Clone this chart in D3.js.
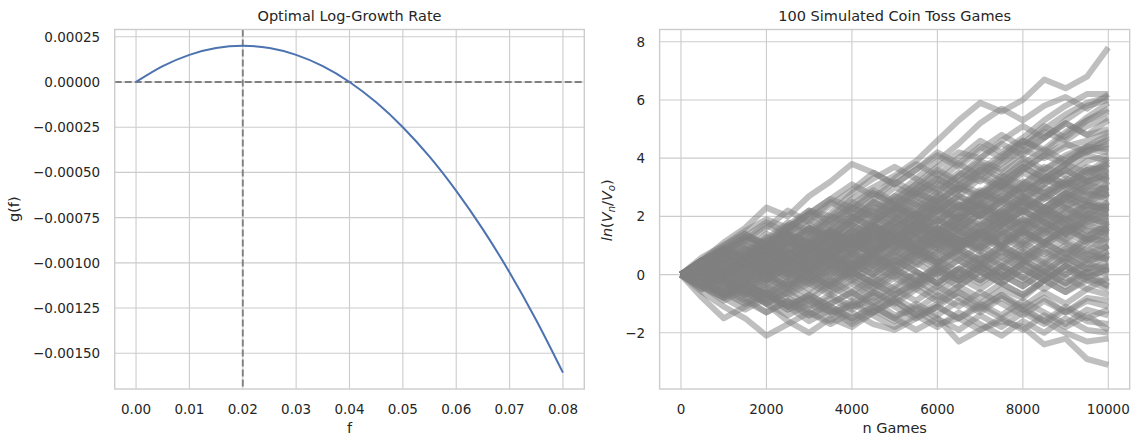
<!DOCTYPE html>
<html>
<head>
<meta charset="utf-8">
<script src="https://cdn.jsdelivr.net/npm/d3@7"></script>
<style>
  body { margin: 0; background: #fff; }
  svg { display: block; font-family: "DejaVu Sans", sans-serif; }
</style>
</head>
<body>
<svg id="chart" width="1139" height="438"></svg>
<script>
// left panel: log-growth rate g(f)
const fValues = [0, 0.005, 0.01, 0.015, 0.02, 0.025, 0.03, 0.035, 0.04, 0.045, 0.05, 0.055, 0.06, 0.065, 0.07, 0.075, 0.08];
const gValues = [0, 0.0000875, 0.00015, 0.0001875, 0.0002, 0.0001875, 0.00015, 0.0000875, 0, -0.0001125, -0.00025, -0.000413, -0.000602, -0.000815, -0.001053, -0.001317, -0.001607];
const fOptimal = 0.02;
const fTicks = [0, 0.01, 0.02, 0.03, 0.04, 0.05, 0.06, 0.07, 0.08];
const gTicks = [0.00025, 0, -0.00025, -0.0005, -0.00075, -0.001, -0.00125, -0.0015];

// right panel: 100 simulated games, ln(Vn/V0) sampled every 500 tosses
const nGames = [0, 500, 1000, 1500, 2000, 2500, 3000, 3500, 4000, 4500, 5000, 5500, 6000, 6500, 7000, 7500, 8000, 8500, 9000, 9500, 10000];
const nTicks = [0, 2000, 4000, 6000, 8000, 10000];
const lnTicks = [-2, 0, 2, 4, 6, 8];
const walks = [
  [0, 0.4, 0.9, 1.3, 1.1, 1.7, 2.2, 2.0, 2.6, 3.0, 3.4, 3.9, 4.6, 5.3, 5.9, 5.6, 6.0, 6.7, 6.4, 6.8, 7.8],
  [0, -0.3, -0.2, -0.7, -0.5, -1.0, -0.8, -1.3, -1.1, -0.9, -1.4, -1.2, -1.7, -1.5, -1.9, -1.6, -1.8, -2.4, -2.2, -2.9, -3.1],
  [0, -0.6, -1.1, -1.5, -2.1, -1.7, -1.3, -1.6, -1.0, -0.6, -0.9, -0.4, 0.1, -0.2, 0.3, 0.8, 0.5, 1.0, 1.4, 1.1, 1.6],
  [0, -0.8, -1.5, -1.1, -0.7, -1.2, -0.9, -0.3, 0.2, -0.1, 0.4, 0.9, 0.6, 1.2, 1.0, 1.5, 1.9, 1.6, 2.2, 2.5, 2.3],
  [0, -0.2, -0.7, -0.4, -1.0, -1.6, -2.0, -1.5, -1.8, -1.3, -0.9, -1.4, -1.1, -0.6, -1.0, -0.5, -0.8, -0.2, -0.6, -0.1, -0.4],
  [0, 0.5, 1.1, 1.6, 2.3, 2.0, 2.7, 3.2, 3.8, 3.5, 3.1, 3.6, 4.1, 3.7, 4.3, 4.8, 4.4, 5.0, 5.5, 5.9, 6.1],
  [0, 0.3, 0.8, 0.6, 1.2, 1.8, 1.5, 2.1, 2.8, 3.3, 3.7, 3.3, 3.9, 4.5, 5.2, 5.7, 5.3, 5.8, 6.1, 5.7, 6.2],
  [0, 0.4, 0.1, 0.6, 1.0, 0.7, 1.3, 1.9, 2.3, 2.0, 2.6, 3.1, 3.7, 4.2, 4.0, 4.6, 5.1, 4.7, 5.3, 5.8, 6.0],
  [0, -0.2, 0.3, 0.9, 0.5, 1.1, 0.8, 1.4, 1.9, 2.5, 2.2, 2.8, 3.3, 2.9, 3.6, 4.1, 4.6, 4.3, 4.9, 5.3, 5.6],
  [0, 0.5, 0.2, 0.7, 1.3, 1.0, 1.6, 1.3, 1.9, 2.4, 3.0, 2.7, 3.2, 3.8, 3.4, 3.9, 4.4, 4.9, 4.6, 5.1, 5.4],
  [0, 0.2, 0.7, 1.2, 0.9, 1.5, 2.1, 2.6, 2.3, 2.0, 2.5, 3.1, 2.8, 3.4, 3.9, 3.6, 4.2, 4.7, 5.2, 4.8, 5.0],
  [0, -0.3, 0.2, 0.0, 0.5, 1.1, 1.6, 1.3, 1.8, 2.2, 2.7, 2.4, 3.0, 3.5, 3.2, 3.8, 4.3, 4.0, 4.4, 4.6, 4.9],
  [0, 0.4, 0.9, 0.6, 0.3, 0.8, 1.4, 2.0, 1.7, 2.3, 2.0, 2.6, 3.1, 2.7, 3.3, 3.0, 3.6, 4.1, 4.5, 4.2, 4.7],
  [0, 0.6, 1.0, 1.5, 1.9, 1.6, 2.2, 1.8, 2.4, 2.9, 2.5, 2.1, 2.7, 3.2, 3.8, 3.5, 4.0, 3.6, 4.1, 4.4, 4.6],
  [0, 0.1, -0.3, 0.2, 0.7, 0.4, 1.0, 1.5, 1.1, 1.7, 2.2, 2.8, 2.5, 3.0, 2.7, 3.3, 3.8, 4.3, 3.9, 4.2, 4.5],
  [0, 0.3, 0.0, 0.5, 0.2, 0.7, 1.2, 0.9, 1.4, 1.9, 2.4, 2.0, 2.5, 2.2, 2.8, 3.4, 3.1, 3.6, 4.0, 4.4, 4.3],
  [0, -0.4, 0.1, 0.5, 1.0, 1.4, 1.1, 1.6, 2.1, 1.8, 2.3, 2.0, 2.5, 3.1, 2.8, 3.2, 3.7, 3.3, 3.8, 4.3, 4.2],
  [0, 0.5, 0.9, 0.6, 1.1, 0.8, 0.4, 0.9, 1.5, 2.0, 1.6, 2.1, 2.6, 2.3, 2.9, 2.6, 3.1, 3.7, 3.4, 3.9, 4.1],
  [0, 0.2, 0.6, 0.3, 0.8, 1.3, 1.0, 0.7, 1.2, 1.7, 1.3, 1.9, 2.4, 2.0, 2.6, 3.1, 2.8, 3.3, 3.8, 3.5, 4.0],
  [0, -0.1, -0.5, 0.0, 0.4, 0.1, 0.6, 1.1, 1.7, 1.4, 1.9, 2.5, 2.2, 2.7, 2.4, 2.9, 3.5, 3.2, 3.6, 4.1, 3.9],
  [0, 0.4, 0.8, 1.3, 1.0, 0.6, 1.1, 1.5, 1.2, 1.8, 2.3, 1.9, 2.4, 2.1, 2.7, 3.2, 2.9, 3.3, 3.0, 3.5, 3.8],
  [0, 0.3, -0.1, 0.3, 0.8, 0.5, 1.0, 0.7, 1.3, 1.0, 1.6, 2.1, 1.7, 2.2, 2.8, 2.5, 3.0, 2.6, 3.1, 3.6, 3.7],
  [0, -0.3, 0.1, 0.6, 0.2, 0.7, 0.4, 0.9, 1.5, 1.2, 1.7, 2.2, 2.7, 2.3, 2.8, 2.4, 2.9, 3.4, 3.1, 3.3, 3.6],
  [0, 0.5, 0.2, 0.6, 1.1, 1.7, 1.4, 1.0, 1.5, 1.1, 1.6, 2.1, 1.8, 2.4, 2.0, 2.5, 3.1, 2.8, 3.2, 3.7, 3.5],
  [0, 0.1, 0.5, 1.0, 0.7, 1.2, 0.8, 1.3, 0.9, 1.4, 2.0, 1.6, 2.2, 2.7, 2.3, 2.0, 2.6, 3.0, 2.7, 3.2, 3.4],
  [0, -0.5, -0.1, 0.3, -0.1, 0.4, 0.9, 0.6, 1.1, 1.7, 1.4, 1.9, 1.5, 2.0, 2.5, 2.2, 2.7, 2.3, 2.8, 3.2, 3.3],
  [0, 0.3, 0.7, 0.4, 0.9, 1.4, 1.9, 1.5, 2.0, 1.6, 1.2, 1.7, 2.2, 1.9, 2.4, 2.1, 2.6, 2.3, 2.8, 2.5, 3.2],
  [0, 0.2, -0.2, 0.2, 0.7, 0.3, 0.8, 1.3, 1.0, 1.5, 1.1, 1.6, 1.3, 1.8, 2.3, 1.9, 2.5, 2.1, 2.6, 3.0, 3.1],
  [0, -0.2, 0.2, -0.2, 0.3, 0.8, 0.5, 1.0, 1.5, 1.1, 1.6, 1.3, 1.8, 2.4, 2.0, 2.6, 2.2, 2.7, 3.2, 2.8, 3.0],
  [0, 0.4, 0.0, 0.4, 0.1, 0.5, 1.0, 0.6, 1.2, 1.7, 2.2, 1.8, 2.3, 1.9, 2.4, 2.0, 2.5, 2.2, 2.6, 3.1, 2.9],
  [0, 0.1, 0.6, 0.2, 0.7, 0.3, 0.8, 1.2, 0.8, 1.4, 1.0, 1.5, 2.0, 1.6, 2.1, 2.7, 2.3, 2.8, 2.4, 2.6, 2.9],
  [0, -0.4, 0.0, 0.5, 0.9, 0.5, 1.1, 0.7, 1.2, 0.9, 1.4, 1.9, 1.5, 2.0, 1.7, 2.2, 2.7, 2.3, 2.8, 2.5, 2.8],
  [0, 0.3, 0.8, 1.2, 0.8, 1.3, 0.9, 1.4, 1.0, 1.5, 1.1, 1.6, 1.2, 1.8, 2.3, 1.9, 2.4, 2.0, 2.5, 2.9, 2.7],
  [0, -0.1, 0.3, 0.7, 0.4, 0.0, 0.5, 1.0, 0.7, 1.2, 1.8, 1.4, 1.9, 1.5, 1.2, 1.7, 2.2, 2.7, 2.3, 2.8, 2.6],
  [0, 0.2, -0.2, -0.6, -0.2, 0.3, 0.7, 0.3, 0.8, 1.3, 0.9, 1.4, 1.9, 1.5, 2.1, 1.7, 2.2, 1.8, 2.3, 2.0, 2.5],
  [0, 0.4, 0.1, 0.5, 0.9, 1.4, 1.0, 0.6, 1.1, 0.7, 1.2, 0.8, 1.3, 1.8, 1.4, 2.0, 1.6, 2.1, 2.6, 2.2, 2.5],
  [0, -0.3, -0.7, -0.3, 0.1, -0.3, 0.2, 0.7, 0.3, 0.8, 1.3, 1.0, 1.5, 1.1, 1.7, 2.2, 1.8, 2.3, 1.9, 2.1, 2.4],
  [0, 0.5, 0.9, 0.5, 0.1, 0.6, 1.1, 0.7, 1.2, 1.7, 1.3, 1.8, 1.4, 1.0, 1.5, 2.0, 1.7, 2.2, 1.8, 2.4, 2.3],
  [0, 0.1, 0.5, 0.2, 0.6, 1.1, 0.7, 1.2, 0.8, 0.4, 0.9, 1.4, 1.0, 1.6, 2.1, 1.7, 2.2, 1.8, 1.4, 1.9, 2.3],
  [0, -0.2, 0.2, 0.6, 1.1, 0.7, 0.3, 0.8, 1.3, 0.9, 1.5, 1.1, 1.6, 1.2, 0.9, 1.4, 1.9, 1.5, 2.0, 2.4, 2.2],
  [0, 0.3, -0.1, 0.3, -0.1, 0.4, 0.9, 0.5, 1.0, 1.5, 1.1, 0.7, 1.2, 1.7, 1.3, 1.8, 1.4, 1.9, 2.3, 1.9, 2.1],
  [0, -0.4, -0.1, 0.4, 0.0, 0.5, 0.1, 0.6, 1.1, 0.7, 1.2, 1.7, 1.3, 0.9, 1.4, 1.0, 1.5, 2.0, 1.6, 2.2, 2.1],
  [0, 0.2, 0.6, 1.0, 0.6, 0.2, 0.7, 0.3, 0.8, 1.3, 1.8, 1.4, 1.0, 1.5, 1.1, 1.7, 2.2, 1.8, 1.4, 1.8, 2.0],
  [0, 0.4, 0.0, -0.4, 0.0, 0.5, 1.0, 1.5, 1.1, 1.6, 1.2, 0.8, 1.3, 0.9, 1.4, 1.9, 1.5, 1.1, 1.6, 2.1, 2.0],
  [0, -0.1, 0.4, 0.0, 0.5, 0.1, -0.3, 0.2, 0.7, 0.3, 0.8, 1.3, 0.9, 1.4, 1.9, 1.5, 1.1, 1.6, 2.1, 1.7, 1.9],
  [0, 0.3, 0.7, 0.3, 0.8, 1.2, 0.8, 0.4, 0.9, 0.5, 1.0, 0.6, 1.1, 1.6, 1.2, 1.7, 1.3, 1.8, 1.4, 1.9, 1.8],
  [0, -0.3, 0.1, -0.3, 0.2, 0.6, 0.2, 0.7, 0.3, 0.8, 1.3, 0.9, 1.4, 1.0, 1.5, 1.1, 1.6, 2.1, 1.7, 1.3, 1.8],
  [0, 0.2, -0.2, 0.3, 0.8, 0.4, 0.9, 0.5, 0.1, 0.6, 1.1, 1.6, 1.2, 0.8, 1.3, 0.9, 1.4, 1.0, 1.5, 2.0, 1.7],
  [0, 0.5, 0.1, 0.5, 0.1, 0.6, 0.2, 0.7, 1.2, 0.8, 1.3, 0.9, 0.5, 1.0, 1.5, 1.1, 1.6, 1.2, 1.7, 1.3, 1.7],
  [0, -0.2, -0.6, -0.2, 0.3, -0.1, 0.4, 0.9, 0.5, 1.0, 0.6, 1.1, 1.6, 1.2, 0.8, 1.3, 0.9, 1.4, 1.9, 1.5, 1.6],
  [0, 0.1, 0.5, 0.9, 0.5, 1.0, 0.6, 1.1, 0.7, 0.3, 0.8, 0.4, 0.9, 1.4, 1.0, 1.5, 1.1, 0.7, 1.2, 1.7, 1.5],
  [0, -0.4, 0.0, 0.4, 0.0, -0.4, 0.1, 0.6, 0.2, 0.7, 1.2, 0.8, 0.4, 0.9, 1.4, 1.0, 1.5, 1.1, 1.6, 1.2, 1.5],
  [0, 0.3, 0.0, 0.4, 0.9, 0.5, 0.1, 0.6, 1.1, 0.7, 0.3, 0.8, 1.3, 0.9, 1.4, 1.0, 0.6, 1.1, 1.6, 1.2, 1.4],
  [0, 0.0, 0.4, 0.0, 0.5, 0.1, 0.6, 0.2, 0.7, 1.2, 0.8, 1.3, 0.9, 0.5, 1.0, 0.6, 1.1, 1.6, 1.2, 0.8, 1.3],
  [0, -0.3, 0.1, 0.5, 0.1, 0.6, 1.0, 0.6, 0.2, 0.7, 0.3, 0.8, 0.4, 0.9, 0.5, 1.0, 1.5, 1.1, 0.7, 1.2, 1.2],
  [0, 0.4, 0.8, 0.4, 0.0, 0.5, 0.1, 0.6, 0.2, 0.7, 1.2, 0.8, 0.4, 0.9, 0.5, 1.0, 0.6, 1.1, 0.7, 1.3, 1.1],
  [0, -0.1, -0.5, -0.1, 0.3, -0.1, 0.4, 0.0, 0.5, 0.1, 0.6, 1.1, 0.7, 1.2, 0.8, 0.4, 0.9, 0.5, 1.0, 0.6, 1.0],
  [0, 0.2, 0.6, 0.2, 0.7, 0.3, -0.1, 0.4, 0.0, 0.5, 0.1, 0.6, 1.1, 0.7, 0.3, 0.8, 0.4, 0.9, 0.5, 1.1, 0.9],
  [0, -0.3, -0.7, -0.3, -0.7, -0.2, 0.2, -0.2, 0.3, 0.8, 0.4, 0.9, 0.5, 0.1, 0.6, 0.2, 0.7, 0.3, 0.8, 0.4, 0.8],
  [0, 0.3, -0.1, 0.3, -0.1, 0.4, 0.0, 0.5, 0.1, -0.3, 0.2, 0.7, 0.3, 0.8, 0.4, 0.9, 0.5, 0.1, 0.6, 0.2, 0.7],
  [0, -0.2, 0.2, -0.2, 0.3, 0.7, 0.3, -0.1, 0.4, 0.0, 0.5, 0.1, -0.3, 0.2, 0.7, 0.3, 0.8, 0.4, 0.0, 0.5, 0.6],
  [0, 0.1, -0.3, -0.7, -0.3, 0.1, -0.3, 0.2, -0.2, 0.3, -0.1, 0.4, 0.0, 0.5, 0.1, 0.6, 0.2, -0.2, 0.3, 0.7, 0.5],
  [0, 0.4, 0.0, 0.4, 0.8, 0.4, 0.0, -0.4, 0.1, -0.3, 0.2, -0.2, 0.3, -0.1, 0.4, 0.0, 0.5, 0.1, 0.6, 0.2, 0.4],
  [0, -0.4, -0.8, -0.4, 0.0, -0.4, 0.1, -0.3, 0.2, 0.6, 0.2, -0.2, 0.3, -0.1, 0.4, 0.0, -0.4, 0.1, -0.3, 0.2, 0.3],
  [0, 0.2, 0.6, 0.2, -0.2, 0.2, -0.2, 0.3, -0.1, -0.5, 0.0, -0.4, 0.1, 0.5, 0.1, -0.3, 0.2, -0.2, 0.3, -0.1, 0.2],
  [0, -0.1, 0.3, -0.1, -0.5, -0.1, -0.5, 0.0, 0.4, 0.0, 0.5, 0.1, -0.3, 0.2, -0.2, 0.3, -0.1, -0.5, 0.0, 0.4, 0.1],
  [0, 0.3, -0.1, -0.5, -0.1, -0.5, -0.1, -0.5, 0.0, -0.4, 0.1, -0.3, 0.2, -0.2, 0.3, -0.1, 0.4, 0.0, -0.4, 0.1, 0.0],
  [0, -0.3, 0.1, -0.3, -0.7, -0.3, -0.7, -0.2, -0.6, -0.1, -0.5, 0.0, -0.4, 0.1, -0.3, 0.2, -0.2, 0.3, -0.1, -0.5, -0.1],
  [0, 0.2, -0.2, -0.6, -1.0, -0.6, -0.2, -0.6, -0.2, -0.6, -0.1, -0.5, 0.0, -0.4, 0.1, -0.3, -0.7, -0.2, 0.2, -0.2, -0.2],
  [0, -0.4, -0.8, -0.4, -0.8, -0.4, 0.0, -0.4, -0.8, -0.3, -0.7, -0.2, -0.6, -0.1, -0.5, 0.0, -0.4, 0.1, -0.3, 0.1, -0.4],
  [0, 0.1, -0.3, 0.1, -0.3, -0.7, -0.3, -0.7, -1.1, -0.6, -1.0, -0.5, -0.9, -0.4, -0.8, -0.3, -0.7, -0.2, -0.6, -0.2, -0.5],
  [0, -0.2, -0.6, -1.0, -0.6, -1.0, -1.4, -1.0, -0.6, -1.0, -0.5, -0.9, -0.4, -0.8, -1.2, -0.7, -1.1, -0.6, -1.0, -0.5, -0.7],
  [0, 0.3, -0.1, -0.5, -0.9, -0.5, -0.9, -1.3, -0.9, -1.3, -0.8, -1.2, -0.7, -1.1, -0.6, -1.0, -1.4, -0.9, -1.3, -0.8, -0.9],
  [0, -0.3, -0.7, -0.3, -0.7, -1.1, -0.7, -1.1, -1.5, -1.1, -1.5, -1.0, -1.4, -0.9, -1.3, -0.8, -1.2, -1.6, -1.1, -1.5, -1.2],
  [0, 0.0, -0.4, -0.8, -0.4, -0.8, -1.2, -0.8, -1.2, -0.7, -1.1, -1.5, -1.1, -1.5, -1.0, -1.4, -0.9, -1.3, -1.7, -1.2, -1.4],
  [0, -0.4, -0.8, -1.2, -0.8, -1.2, -0.8, -1.2, -1.6, -1.2, -1.6, -1.1, -1.5, -1.9, -1.4, -1.8, -1.3, -1.7, -1.2, -1.6, -1.7],
  [0, 0.2, -0.2, -0.6, -1.0, -1.4, -1.0, -1.4, -1.0, -1.4, -1.8, -1.4, -1.8, -1.3, -1.7, -2.1, -1.6, -2.0, -1.5, -1.9, -2.0],
  [0, -0.3, -0.7, -0.3, -0.7, -1.1, -0.7, -1.1, -1.5, -1.1, -1.5, -1.9, -1.5, -2.3, -1.9, -1.5, -1.9, -1.4, -1.8, -1.4, -1.9],
  [0, -0.1, -0.5, -0.9, -1.3, -0.9, -1.3, -1.7, -1.3, -1.7, -1.9, -1.5, -1.1, -1.5, -1.1, -1.5, -1.1, -1.6, -2.0, -2.3, -2.2],
  [0, 0.5, 1.0, 1.4, 1.0, 1.6, 2.1, 1.7, 2.3, 2.8, 2.4, 3.0, 3.6, 3.2, 3.7, 3.3, 3.9, 3.5, 3.1, 3.6, 3.2],
  [0, 0.3, 0.8, 1.3, 1.8, 1.4, 1.9, 2.5, 2.1, 2.6, 3.2, 2.8, 3.3, 2.9, 3.5, 4.0, 4.6, 4.2, 4.8, 5.4, 5.9],
  [0, 0.2, 0.7, 0.4, 1.0, 1.6, 2.1, 2.6, 3.1, 2.7, 3.3, 3.8, 3.4, 4.0, 4.6, 4.2, 4.7, 5.3, 5.8, 6.2, 6.2],
  [0, 0.5, 0.2, 0.8, 1.4, 1.1, 1.7, 1.3, 1.9, 2.5, 2.1, 2.7, 2.3, 2.9, 3.4, 3.0, 3.6, 4.1, 3.8, 4.4, 4.8],
  [0, -0.2, 0.3, 0.8, 0.4, 1.0, 1.5, 1.1, 1.7, 1.3, 1.9, 2.4, 2.0, 2.6, 2.2, 2.7, 3.2, 2.8, 3.3, 3.0, 3.4],
  [0, 0.3, 0.7, 1.2, 1.7, 1.3, 0.9, 1.4, 1.0, 1.5, 2.0, 1.6, 2.2, 1.8, 1.4, 1.9, 2.5, 2.1, 2.7, 2.3, 2.8],
  [0, 0.1, 0.5, 0.1, 0.6, 1.1, 1.6, 1.2, 1.7, 2.2, 1.8, 2.3, 2.8, 2.4, 2.0, 2.5, 2.1, 2.6, 3.1, 2.7, 3.0],
  [0, -0.2, -0.6, -0.2, 0.2, 0.7, 0.3, 0.8, 0.4, 0.9, 1.4, 1.0, 1.5, 2.0, 1.6, 2.1, 1.7, 2.3, 1.9, 2.4, 2.2],
  [0, 0.4, 0.1, 0.6, 0.2, 0.7, 0.3, 0.8, 1.3, 0.9, 1.4, 1.0, 1.6, 1.2, 1.7, 1.3, 1.8, 1.4, 1.9, 1.5, 1.4],
  [0, -0.1, 0.3, -0.1, 0.4, 0.0, 0.5, 0.1, 0.6, 0.2, 0.7, 0.3, 0.8, 1.3, 0.9, 1.4, 1.0, 1.5, 1.1, 0.7, 1.0],
  [0, 0.2, -0.2, 0.2, -0.2, 0.3, -0.1, 0.4, 0.0, 0.5, 0.1, 0.6, 0.2, 0.7, 0.3, -0.1, 0.4, 0.0, 0.5, 0.9, 0.5],
  [0, -0.5, -0.1, -0.5, -0.1, -0.5, 0.0, -0.4, 0.1, -0.3, -0.7, -0.3, 0.2, -0.2, 0.3, -0.1, 0.4, 0.8, 0.4, 0.0, 0.3],
  [0, 0.3, 0.8, 0.4, 0.9, 0.5, 1.0, 1.5, 1.1, 0.7, 1.2, 1.8, 1.4, 1.9, 2.5, 3.0, 2.6, 3.1, 3.6, 3.2, 3.8],
  [0, 0.4, 0.9, 1.4, 1.0, 1.5, 1.1, 1.7, 2.2, 2.8, 2.4, 2.9, 3.5, 3.1, 3.6, 3.2, 2.8, 3.3, 2.9, 3.4, 3.9],
  [0, 0.1, 0.6, 1.1, 1.6, 2.2, 1.8, 2.4, 2.9, 3.5, 3.1, 3.6, 4.2, 3.8, 4.4, 4.0, 4.5, 5.1, 4.7, 5.3, 5.7],
  [0, -0.2, 0.3, 0.7, 1.2, 0.8, 1.3, 1.9, 2.5, 2.1, 2.7, 3.3, 2.9, 3.4, 4.0, 4.5, 4.1, 4.7, 5.2, 4.8, 5.3],
  [0, 0.3, 0.0, 0.5, 1.0, 0.6, 1.1, 0.7, 1.2, 1.8, 2.3, 2.9, 2.5, 3.0, 2.6, 3.1, 3.7, 3.3, 3.8, 4.3, 4.4],
  [0, -0.4, -0.9, -0.5, -1.0, -0.6, -1.1, -0.7, -0.3, -0.8, -0.4, 0.1, -0.3, 0.2, -0.2, 0.3, -0.1, 0.4, 0.9, 0.5, 0.8],
  [0, 0.2, -0.3, -0.8, -1.3, -0.9, -1.4, -1.0, -0.6, -1.1, -0.7, -0.3, -0.8, -0.4, 0.1, -0.3, 0.2, -0.2, 0.3, -0.1, 0.2],
  [0, -0.1, -0.6, -1.0, -0.6, -1.1, -1.6, -1.2, -1.7, -1.3, -0.9, -1.4, -1.0, -0.6, -1.1, -0.7, -1.2, -0.8, -1.3, -0.9, -1.1],
  [0, 0.4, 0.8, 0.4, 0.9, 1.4, 1.0, 1.5, 2.0, 1.6, 1.2, 1.7, 2.3, 1.9, 2.4, 2.9, 2.5, 3.1, 3.6, 3.2, 3.5]
];

const svg = d3.select("#chart");
const textColor = "#262626";
const gridColor = "#cccccc";

// shared vertical extent of both axes boxes
const axTop = 29.5, axBottom = 389;

// ---------- left panel ----------
const xL = d3.scaleLinear().domain([-0.004, 0.084]).range([114.7, 584.3]);
const yL = d3.scaleLinear().domain([-0.0016974, 0.00029]).range([axBottom, axTop]);

// ---------- right panel ----------
const xR = d3.scaleLinear().domain([-500, 10500]).range([659.6, 1129.7]);
const yR = d3.scaleLinear().domain([-3.93, 8.42]).range([axBottom, axTop]);

function drawFrame(x, y, xt, yt, xfmt, yfmt) {
  const g = svg.append("g");
  const [x0, x1] = x.range();
  g.selectAll(".vg").data(xt).join("line")
      .attr("x1", d => x(d)).attr("x2", d => x(d))
      .attr("y1", axTop).attr("y2", axBottom)
      .attr("stroke", gridColor).attr("stroke-width", 1.1);
  g.selectAll(".hg").data(yt).join("line")
      .attr("x1", x0).attr("x2", x1)
      .attr("y1", d => y(d)).attr("y2", d => y(d))
      .attr("stroke", gridColor).attr("stroke-width", 1.1);
  svg.append("g").selectAll("text").data(xt).join("text")
      .attr("x", d => x(d)).attr("y", 414)
      .attr("text-anchor", "middle")
      .attr("font-size", 13.5).attr("fill", textColor)
      .text(xfmt);
  svg.append("g").selectAll("text").data(yt).join("text")
      .attr("x", x0 - 14.5).attr("y", d => y(d) + 5)
      .attr("text-anchor", "end")
      .attr("font-size", 13.5).attr("fill", textColor)
      .text(yfmt);
  return g;
}

function drawBorder(x) {
  const [x0, x1] = x.range();
  svg.append("rect")
      .attr("x", x0).attr("y", axTop)
      .attr("width", x1 - x0).attr("height", axBottom - axTop)
      .attr("fill", "none").attr("stroke", gridColor).attr("stroke-width", 1.4);
}

drawFrame(xL, yL, fTicks, gTicks, d3.format(".2f"), d3.format(".5f"));
drawFrame(xR, yR, nTicks, lnTicks, d3.format("d"), d3.format("d"));

// reference lines: optimum f and zero growth
svg.append("line")
    .attr("x1", xL.range()[0]).attr("x2", xL.range()[1])
    .attr("y1", yL(0)).attr("y2", yL(0))
    .attr("stroke", "#808080").attr("stroke-width", 1.9)
    .attr("stroke-dasharray", "7,3");
svg.append("line")
    .attr("x1", xL(fOptimal)).attr("x2", xL(fOptimal))
    .attr("y1", axTop).attr("y2", axBottom)
    .attr("stroke", "#808080").attr("stroke-width", 1.9)
    .attr("stroke-dasharray", "7,3");

// the growth curve
const curve = d3.line()
    .x((d, i) => xL(fValues[i]))
    .y(d => yL(d))
    .curve(d3.curveMonotoneX);
svg.append("path")
    .datum(gValues)
    .attr("d", curve)
    .attr("fill", "none")
    .attr("stroke", "#4c72b0")
    .attr("stroke-width", 2);

// the simulated games (thick strokes stand in for the toss-level jitter)
const walkLine = d3.line()
    .x((d, i) => xR(nGames[i]))
    .y(d => yR(d));
svg.append("g").selectAll("path").data(walks).join("path")
    .attr("d", walkLine)
    .attr("fill", "none")
    .attr("stroke", "#808080")
    .attr("stroke-opacity", 0.5)
    .attr("stroke-width", 6)
    .attr("stroke-linejoin", "round")
    .attr("stroke-linecap", "butt");

drawBorder(xL);
drawBorder(xR);

// titles and axis labels
const midL = (xL.range()[0] + xL.range()[1]) / 2;
const midR = (xR.range()[0] + xR.range()[1]) / 2;
const midY = (axTop + axBottom) / 2;

svg.append("text").attr("x", midL).attr("y", 20.5)
    .attr("text-anchor", "middle").attr("font-size", 14.5).attr("fill", textColor)
    .text("Optimal Log-Growth Rate");
svg.append("text").attr("x", midR).attr("y", 20.5)
    .attr("text-anchor", "middle").attr("font-size", 14.5).attr("fill", textColor)
    .text("100 Simulated Coin Toss Games");

svg.append("text").attr("x", midL).attr("y", 433)
    .attr("text-anchor", "middle").attr("font-size", 14.5).attr("fill", textColor)
    .text("f");
svg.append("text").attr("x", midR).attr("y", 433)
    .attr("text-anchor", "middle").attr("font-size", 14.5).attr("fill", textColor)
    .text("n Games");

svg.append("text")
    .attr("transform", `translate(19,${midY}) rotate(-90)`)
    .attr("text-anchor", "middle").attr("font-size", 14.5).attr("fill", textColor)
    .text("g(f)");

const lnLabel = svg.append("text")
    .attr("transform", `translate(611.5,${midY + 1}) rotate(-90)`)
    .attr("text-anchor", "middle").attr("font-size", 14.5).attr("fill", textColor);
lnLabel.append("tspan").attr("font-style", "italic").text("ln");
lnLabel.append("tspan").text("(");
lnLabel.append("tspan").attr("font-style", "italic").text("V");
lnLabel.append("tspan").attr("font-style", "italic").attr("font-size", 10).attr("dy", 3).text("n");
lnLabel.append("tspan").attr("dy", -3).text("/");
lnLabel.append("tspan").attr("font-style", "italic").text("V");
lnLabel.append("tspan").attr("font-style", "italic").attr("font-size", 10).attr("dy", 3).text("o");
lnLabel.append("tspan").attr("dy", -3).text(")");
</script>
</body>
</html>
